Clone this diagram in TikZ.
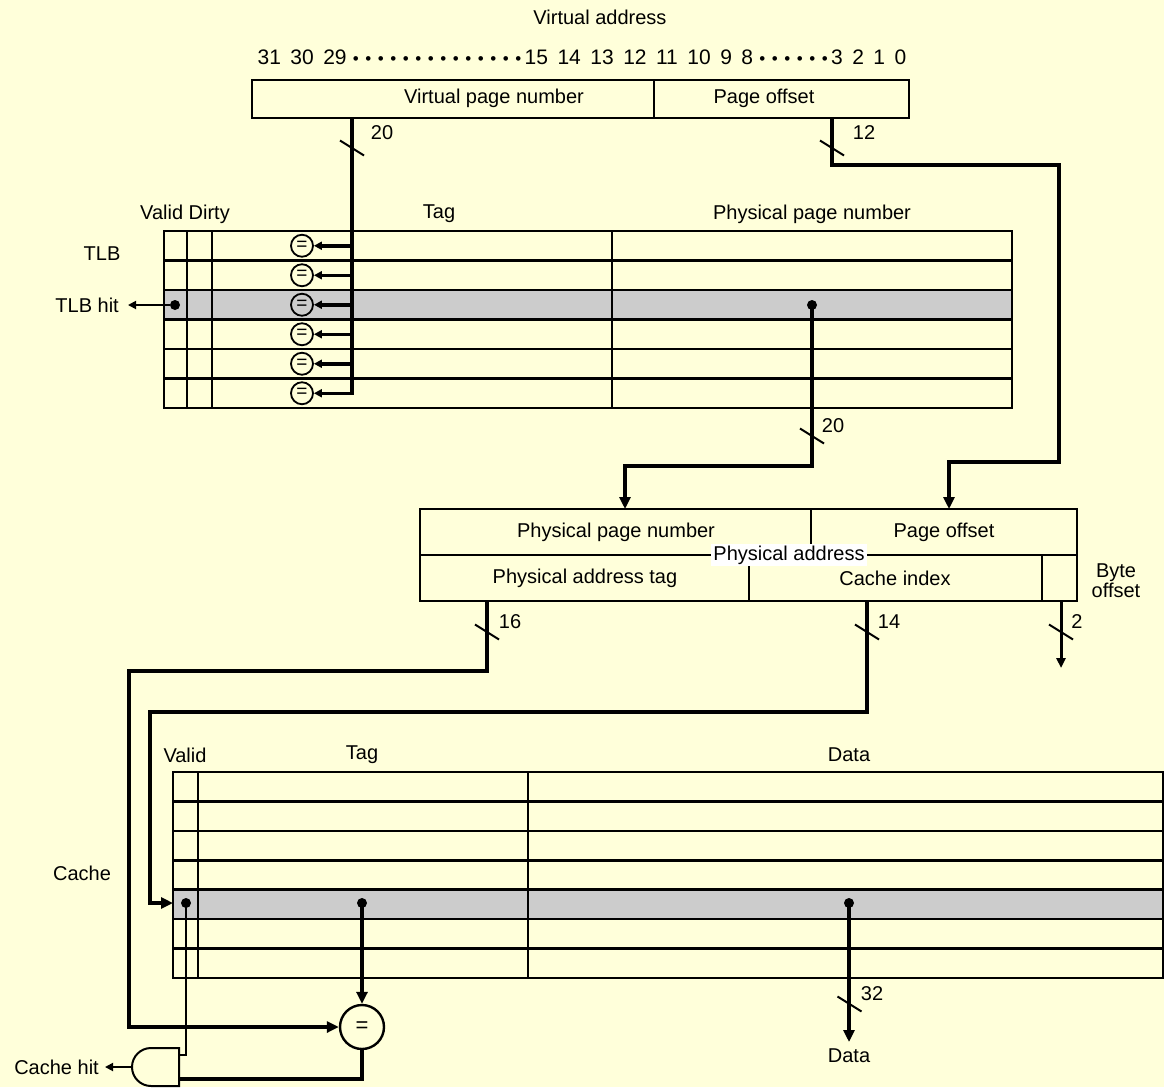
\documentclass[tikz,border=0pt]{standalone}
\usepackage{fontspec}
\setmainfont{Liberation Sans}
\usetikzlibrary{arrows.meta, positioning}
\definecolor{paper}{RGB}{255,255,218}
\definecolor{hitgray}{RGB}{204,204,204}
\newcommand{\bitdots}[1]{\foreach \k in {1,...,#1}{\makebox[12.5pt]{\fontsize{17}{17}\selectfont\textbullet}}}
\newcommand{\busmark}[1]{\draw[line width=2pt] #1 ++(-12,-7.5) -- ++(24,15);}

\begin{document}
\begin{tikzpicture}[x=1pt, y=-1pt,
    lbl/.style={font=\fontsize{20}{21}\selectfont, inner sep=3pt},
    tbl/.style={line width=2.6pt},
    bus/.style={line width=4pt},
    wire/.style={line width=1.8pt},
    bustip/.style={-{Triangle[length=12pt, width=11pt]}},
    smalltip/.style={-{Triangle[length=8pt, width=8pt]}},
    eqbox/.style={circle, draw, line width=1.8pt, minimum size=22pt, inner sep=0pt, font=\fontsize{19}{19}\selectfont},
    dot/.style={circle, fill, inner sep=0pt, minimum size=10pt}]
  \fill[paper] (0,0) rectangle (1164,1087);
  \useasboundingbox (0,0) rectangle (1164,1087);

  % virtual address
  \node[lbl] (vatitle) at (600,17) {Virtual address};
  \node[lbl, font=\fontsize{21}{21}\selectfont] (bits) at (582,57)
       {\spaceskip=9.5pt\relax 31 30 29\kern3pt\bitdots{14}15 14 13 12 11 10 9 8\kern3pt\bitdots{6}3 2 1 0};
  \draw[tbl] (252,80) rectangle (909,118);
  \draw[tbl] (654,80) -- (654,118);
  \node[lbl] (vpnlbl) at (494,98) {Virtual page number};
  \node[lbl] (volbl) at (764,98) {Page offset};

  % TLB
  \node[lbl] (vdlbl) at (185,214) {Valid Dirty};
  \node[lbl] (tlbtaglbl) at (439,214) {Tag};
  \node[lbl] (tlbppnlbl) at (812,214) {Physical page number};
  \node[lbl] (tlblbl) at (102,254) {TLB};
  \fill[hitgray] (164,290) rectangle (1012,319.5);
  \draw[tbl] (164,231) rectangle (1012,408);
  \foreach \y in {260.5,290,319.5,349,378.5}
    \draw[tbl] (164,\y) -- (1012,\y);
  \foreach \x in {187,212,612}
    \draw[tbl] (\x,231) -- (\x,408);

  \coordinate (vpnout) at (352,118);
  \coordinate (vpnend) at (352,395);
  \draw[bus] (vpnout) -- (vpnend);
  \busmark{(352,148)}
  \node[lbl] (w20a) at (382,133) {20};
  \foreach \y [count=\i] in {245.75,275.25,304.75,334.25,363.75,393.25} {
    \node[eqbox] (eq\i) at (302,\y) {=};
    \coordinate (tap\i) at (352,\y);
    \draw[line width=3.5pt, smalltip] (tap\i) -- (eq\i);
  }

  \node[dot] (tlbv) at (175,305) {};
  \node[lbl, anchor=east, inner xsep=9pt] (tlbhit) at (128,305) {TLB hit};
  \draw[wire, smalltip] (tlbv) -- (tlbhit);

  % physical address
  \coordinate (voout) at (832,118);
  \coordinate (pain2) at (949,509);
  \draw[bus, bustip] (voout) |- (1059,165) |- (949,462) -- (pain2);
  \busmark{(832,148)}
  \node[lbl] (w12) at (864,133) {12};

  \node[dot] (ppnv) at (812,305) {};
  \coordinate (pain1) at (625,509);
  \draw[bus, bustip] (ppnv.center) |- (625,466) -- (pain1);
  \busmark{(812,436)}
  \node[lbl] (w20b) at (833,426) {20};

  \draw[tbl] (420,509) rectangle (1077,601);
  \draw[tbl] (420,555) -- (1077,555);
  \draw[tbl] (811,509) -- (811,555);
  \draw[tbl] (749,555) -- (749,601);
  \draw[tbl] (1042,555) -- (1042,601);
  \node[lbl] (pppnlbl) at (616,532) {Physical page number};
  \node[lbl] (ppolbl) at (944,532) {Page offset};
  \node[lbl, fill=white, inner sep=2pt] (palbl) at (789,555) {Physical address};
  \node[lbl] (patlbl) at (585,578) {Physical address tag};
  \node[lbl] (cilbl) at (895,578) {Cache index};
  \node[lbl, align=center, font=\fontsize{20}{20}\selectfont] (bolbl) at (1116,581) {Byte\\offset};

  % cache
  \node[lbl] (cvlbl) at (185,755) {Valid};
  \node[lbl] (ctaglbl) at (362,755) {Tag};
  \node[lbl] (cdatalbl) at (849,755) {Data};
  \node[lbl] (cachelbl) at (82,873) {Cache};
  \fill[hitgray] (173,889.7) rectangle (1163,919.1);
  \draw[tbl] (173,772) rectangle (1163,978);
  \foreach \i in {1,...,6}
    \draw[tbl] (173,772+\i*29.43) -- (1163,772+\i*29.43);
  \foreach \x in {198,528}
    \draw[tbl] (\x,772) -- (\x,978);

  \coordinate (tagout) at (487,601);
  \coordinate (idxout) at (867,601);
  \coordinate (byteout) at (1061,601);
  \coordinate (byteend) at (1061,668);
  \coordinate (cachein) at (173,903);
  \node[circle, draw, line width=2.4pt, minimum size=44pt, inner sep=0pt,
        font=\fontsize{22}{22}\selectfont] (bigeq) at (362,1027) {=};

  \draw[bus, bustip] (tagout) |- (129,671) |- (bigeq);
  \busmark{(487,632)}
  \node[lbl] (w16) at (510,622) {16};
  \draw[bus, bustip] (idxout) |- (150,712) |- (cachein);
  \busmark{(867,632)}
  \node[lbl] (w14) at (889,622) {14};
  \draw[line width=3pt, -{Triangle[length=10pt, width=9pt]}] (byteout) -- (byteend);
  \busmark{(1061,632)}
  \node[lbl] (w2) at (1077,622) {2};

  \node[dot] (validv) at (186,903) {};
  \node[dot] (tagv) at (362,903) {};
  \node[dot] (datav) at (849,903) {};
  \draw[bus, bustip] (tagv.center) -- (bigeq);

  \coordinate (dataend) at (849,1042);
  \node[lbl, below=4pt of dataend] (dataout) {Data};
  \draw[bus, bustip] (datav.center) -- (dataend);
  \busmark{(849.5,1004)}
  \node[lbl] (w32) at (872,994) {32};

  % hit logic
  \draw[line width=2pt] (179,1048) -- (151,1048)
       arc[start angle=270, end angle=90, radius=19] -- (179,1086) -- cycle;
  \coordinate (andin1) at (179,1055);
  \coordinate (andin2) at (179,1079);
  \coordinate (andout) at (132,1067);
  \draw[wire] (validv.center) |- (andin1);
  \draw[bus] (bigeq) |- (andin2);
  \node[lbl, anchor=east, inner xsep=6pt] (cachehit) at (105,1067) {Cache hit};
  \draw[wire, smalltip] (andout) -- (cachehit);
\end{tikzpicture}
\end{document}
